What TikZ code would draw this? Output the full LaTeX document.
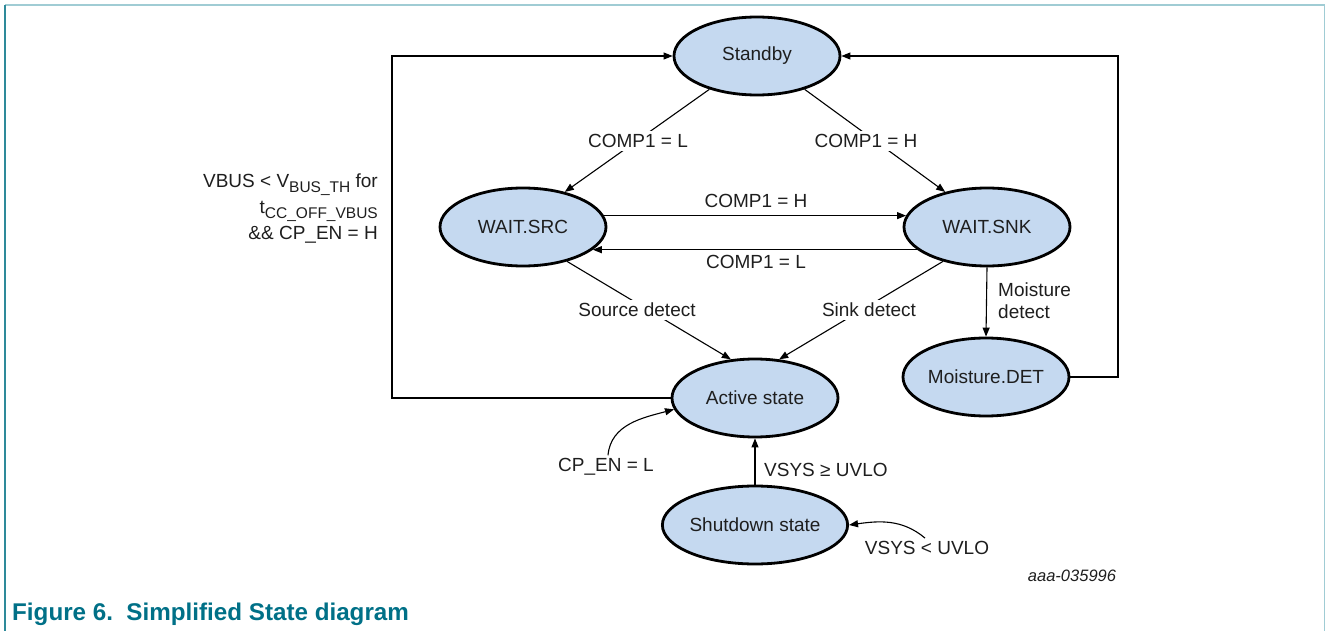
\documentclass[tikz,border=0pt]{standalone}
\usepackage{fontspec}
\setmainfont{Liberation Sans}
\usetikzlibrary{shapes.geometric,arrows.meta}
\definecolor{fillb}{RGB}{197,217,240}
\definecolor{capc}{RGB}{0,112,135}
\definecolor{frameA}{RGB}{46,138,154}
\definecolor{frameB}{RGB}{160,204,212}
\definecolor{txt}{RGB}{30,30,30}
\newcommand\mysubs[1]{\raisebox{-0.4ex}{\fontsize{15.5}{17}\selectfont #1}}
\begin{document}
\begin{tikzpicture}[x=1pt,y=-1pt,
  state/.style={ellipse,draw=black,line width=2.8pt,fill=fillb,minimum width=166pt,minimum height=78pt,inner sep=0pt,text=txt,font=\fontsize{19}{22}\selectfont},
  lbl/.style={font=\fontsize{19}{22}\selectfont,inner sep=0pt,text=txt},
  onln/.style={fill=white,inner sep=3pt},
  arr/.style={line width=1.1pt,-{Triangle[length=9pt,width=7pt]}},
]
\useasboundingbox (0,0) rectangle (1326,631);
% frame
\draw[frameB,line width=2pt] (5,5) -- (1325,5);
\draw[frameB,line width=1.6pt] (1324.5,5) -- (1324.5,631);
\draw[frameA,line width=2pt] (5,5) -- (5,631);

% states
\node[state] (stb) at (757,56) {Standby};
\node[state] (src) at (523,227) {WAIT.SRC};
\node[state] (snk) at (987,227) {WAIT.SNK};
\node[state] (act) at (755,398) {Active state};
\node[state] (mst) at (986,377) {Moisture.DET};
\node[state] (sd) at (755,525) {Shutdown state};

% coordinates for loops
\coordinate (LX) at (392,0);
\coordinate (RX) at (1118,0);

% connectors
\draw[arr] (stb.215) -- (src.40);
\draw[arr] (stb.325) -- (snk.140);
\draw[arr] (src.8) -- (snk.172);
\draw[arr] (snk.198) -- (src.-18);
\draw[arr] (src.-38) -- (act.122);
\draw[arr] (snk.218) -- (act.58);
\draw[arr] (snk.south) -- (mst.north);
\draw[arr] (sd.north) -- (act.south);
\draw[arr] (act.west) -- (act.west -| LX) -- (LX |- stb.west) -- (stb.west);
\draw[arr] (mst.east) -- (mst.east -| RX) -- (RX |- stb.east) -- (stb.east);

% labels
\node[lbl,onln] (l1) at (638,141) {COMP1 = L};
\node[lbl,onln] (l2) at (866,141) {COMP1 = H};
\node[lbl] (l3) at (756,201) {COMP1 = H};
\node[lbl] (l4) at (756,262) {COMP1 = L};
\node[lbl,onln] (l5) at (637,310) {Source detect};
\node[lbl,onln] (l6) at (869,310) {Sink detect};
\node[lbl,anchor=west,align=left,font=\fontsize{19}{22}\selectfont] (l7) at (998,301) {Moisture\\detect};
\node[lbl,anchor=west] (l8) at (764,470) {VSYS ≥ UVLO};
\node[lbl] (cpl) at (606,467) {CP\_EN = L};
\node[lbl] (vsl) at (927,548) {VSYS < UVLO};
\node[lbl,anchor=east,align=right,font=\fontsize{19}{26}\selectfont] (lv) at (378,209)
  {VBUS < V\mysubs{BUS\_TH} for\\ t\mysubs{CC\_OFF\_VBUS}\\ \&\& CP\_EN = H};

% curved arrows
\draw[arr] (cpl.north) ++(2,-3) coordinate (cps) (cps) to[out=85,in=195] (act.188);
\draw[arr] (vsl.north) ++(-2,-3) coordinate (vss) (vss) to[out=140,in=8] (sd.east);

% id and caption
\node[font=\itshape\fontsize{16.5}{19}\selectfont,inner sep=0pt,text=txt] (id) at (1072,576) {aaa-035996};
\node[anchor=west,font=\bfseries\fontsize{24.2}{27}\selectfont,text=capc,inner sep=0pt] (cap) at (12,614) {Figure 6.\ \ Simplified State diagram};
\end{tikzpicture}
\end{document}
